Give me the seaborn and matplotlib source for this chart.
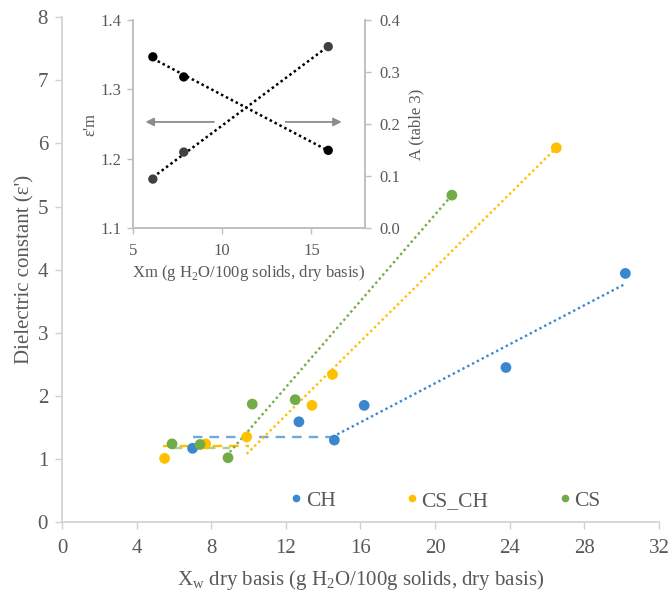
import numpy as np
import pandas as pd
import matplotlib
matplotlib.use("Agg")
import matplotlib.pyplot as plt
import seaborn as sns

# ---------------- data ----------------
ch_x = [7.0, 12.7, 14.6, 16.2, 23.8, 30.2]
ch_y = [1.17, 1.59, 1.30, 1.85, 2.45, 3.94]
csch_x = [5.5, 7.7, 9.9, 13.4, 14.5, 26.5]
csch_y = [1.01, 1.24, 1.35, 1.85, 2.34, 5.93]
cs_x = [5.9, 7.4, 8.9, 10.2, 12.5, 20.9]
cs_y = [1.24, 1.23, 1.02, 1.87, 1.94, 5.18]

# trend segments (plateau, then rising line)
ch_flat_x, ch_flat_y = [7.0, 14.9], [1.35, 1.35]
ch_rise_x, ch_rise_y = [14.5, 30.1], [1.35, 3.76]
csch_flat_x, csch_flat_y = [5.4, 10.0], [1.21, 1.21]
csch_rise_x, csch_rise_y = [9.9, 26.5], [1.08, 5.93]
cs_flat_x, cs_flat_y = [5.95, 9.0], [1.17, 1.17]
cs_rise_x, cs_rise_y = [9.0, 20.9], [1.11, 5.18]

# inset
xm = [6.12, 7.85, 15.94]
eps_m = [1.347, 1.318, 1.212]
A_val = [0.094, 0.146, 0.349]

series = ["CH", "CS_CH", "CS"]
colors = {"CH": "#3A87CF", "CS_CH": "#FFC000", "CS": "#70AD47"}

df = pd.DataFrame({
    "x": ch_x + csch_x + cs_x,
    "y": ch_y + csch_y + cs_y,
    "s": ["CH"] * len(ch_x) + ["CS_CH"] * len(csch_x) + ["CS"] * len(cs_x),
})

sns.set_theme(style="white")
plt.rcParams["font.family"] = ["Liberation Serif", "DejaVu Serif"]
plt.rcParams["mathtext.fontset"] = "custom"
plt.rcParams["mathtext.rm"] = "Liberation Serif"

fig = plt.figure(figsize=(6.71, 5.92), dpi=100)
ax = fig.add_axes([0.0924, 0.118, 0.8896, 0.853])

tick_col = "#595959"
spine_col = "#D0D0D0"

# trend lines
ax.plot(ch_flat_x, ch_flat_y, ls=(0, (4, 3)), color="#6FA8DC", lw=1.7)
ax.plot(csch_flat_x, csch_flat_y, ls=(0, (4, 3)), color="#FFC000", lw=1.7)
ax.plot(cs_flat_x, cs_flat_y, ls=(0, (4, 3)), color="#A9D18E", lw=1.7)
ax.plot(ch_rise_x, ch_rise_y, ls=(0, (1, 1.3)), color="#3A87CF", lw=1.7)
ax.plot(csch_rise_x, csch_rise_y, ls=(0, (1, 1.3)), color="#FFC000", lw=1.7)
ax.plot(cs_rise_x, cs_rise_y, ls=(0, (1, 1.3)), color="#70AD47", lw=1.7)

sns.scatterplot(data=df, x="x", y="y", hue="s", hue_order=series, palette=colors,
                s=60, edgecolor="none", ax=ax, legend=True, zorder=3)

ax.set_xlim(0, 32)
ax.set_ylim(0, 8)
ax.set_xticks(np.arange(0, 33, 4))
ax.set_yticks(np.arange(0, 9, 1))
for side in ["top", "right"]:
    ax.spines[side].set_visible(False)
for side in ["left", "bottom"]:
    ax.spines[side].set_color(spine_col)
    ax.spines[side].set_linewidth(1.2)
ax.tick_params(axis="both", which="major", length=5, width=1.0, color=spine_col,
               labelsize=15, labelcolor=tick_col, direction="out", bottom=True, left=True, pad=5)
ax.tick_params(axis="x", pad=7)
ax.set_xlabel(r"X$_\mathregular{w}$ dry basis (g H$_\mathregular{2}$O/100g solids, dry basis)",
              fontsize=15, color=tick_col, labelpad=7)
ax.set_ylabel("Dielectric constant (ε')", fontsize=15, color=tick_col, labelpad=2)

handles, labels = ax.get_legend_handles_labels()
for h in handles:
    if hasattr(h, "set_markersize"):
        h.set_markersize(5.5)
leg = ax.legend(handles, labels, loc="center", bbox_to_anchor=(0.64, 0.042), ncol=3,
                frameon=False, fontsize=15.5, handletextpad=0.05, columnspacing=3.15,
                handlelength=0.8, labelcolor=tick_col)

# ---------------- inset ----------------
ins = fig.add_axes([0.198, 0.615, 0.346, 0.351])
ins2 = ins.twinx()
ins_spine = "#BFBFBF"

fit1 = np.polyfit(xm, eps_m, 1)
fit2 = np.polyfit(xm, A_val, 1)
xx = np.array([xm[0], xm[-1]])
ins.plot(xx, np.polyval(fit1, xx), ls=(0, (1, 1.2)), color="black", lw=1.8)
ins2.plot(xx, np.polyval(fit2, xx), ls=(0, (1, 1.2)), color="black", lw=1.8)
sns.scatterplot(x=xm, y=eps_m, ax=ins, color="black", s=45, edgecolor="none", zorder=3)
sns.scatterplot(x=xm, y=A_val, ax=ins2, color="#404040", s=45, edgecolor="none", zorder=3)

ins.set_xlim(5, 18)
ins.set_ylim(1.1, 1.4)
ins2.set_ylim(0.0, 0.4)
ins.set_xticks([5, 10, 15])
ins.set_yticks([1.1, 1.2, 1.3, 1.4])
ins.set_yticklabels(["1.1", "1.2", "1.3", "1.4"])
ins2.set_yticks([0.0, 0.1, 0.2, 0.3, 0.4])
ins2.set_yticklabels(["0.0", "0.1", "0.2", "0.3", "0.4"])
for a in (ins, ins2):
    a.spines["top"].set_visible(False)
    for side in ["left", "bottom", "right"]:
        a.spines[side].set_color(ins_spine)
        a.spines[side].set_linewidth(1.2)
    a.tick_params(axis="both", length=4, width=1.0, color=ins_spine, labelsize=12,
                  labelcolor=tick_col, direction="out", pad=4)
ins.tick_params(axis="x", bottom=True, pad=7)
ins.tick_params(axis="y", left=True)
ins2.tick_params(axis="y", right=True, pad=6)
ins.patch.set_alpha(0)
ins.set_xlabel(r"Xm (g H$_\mathregular{2}$O/100g solids, dry basis)", fontsize=12,
               color=tick_col, labelpad=3)
ins.set_ylabel("ε'm", fontsize=12, color=tick_col, labelpad=2)
ins2.set_ylabel("A (table 3)", fontsize=12, color=tick_col, labelpad=6)

ins.annotate("", xy=(5.55, 1.253), xytext=(9.7, 1.253),
             arrowprops=dict(arrowstyle="-|>", color="#8C8C8C", lw=1.3, mutation_scale=12))
ins.annotate("", xy=(16.85, 1.253), xytext=(13.4, 1.253),
             arrowprops=dict(arrowstyle="-|>", color="#8C8C8C", lw=1.3, mutation_scale=12))

fig.savefig("out.png", dpi=100)
